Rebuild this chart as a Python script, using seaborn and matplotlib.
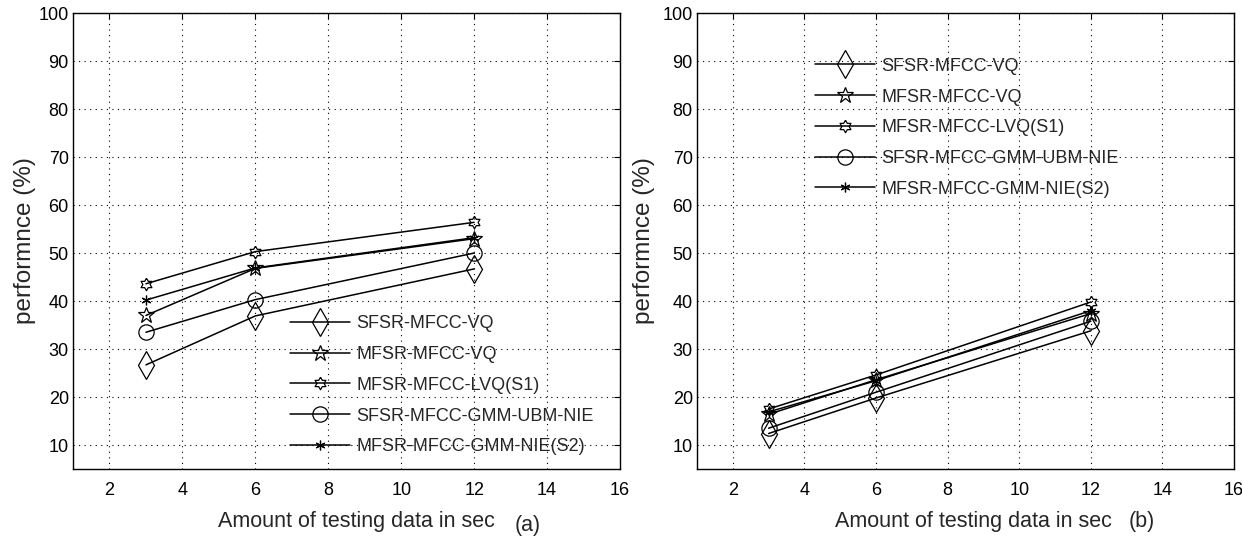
import numpy as np
import pandas as pd
import matplotlib
matplotlib.use('Agg')
import matplotlib.pyplot as plt
from matplotlib.path import Path
import seaborn as sns

# ── Data ──────────────────────────────────────────────
test_sec = [3, 6, 12]
series = ['SFSR-MFCC-VQ', 'MFSR-MFCC-VQ', 'MFSR-MFCC-LVQ(S1)',
          'SFSR-MFCC-GMM-UBM-NIE', 'MFSR-MFCC-GMM-NIE(S2)']

# panel (a)
a_sfsr_vq = [26.7, 36.9, 46.7]
a_mfsr_vq = [37.0, 46.8, 53.0]
a_mfsr_lvq = [43.6, 50.3, 56.4]
a_sfsr_gmm = [33.5, 40.3, 50.0]
a_mfsr_gmm = [40.2, 46.9, 53.2]

# panel (b)
b_sfsr_vq = [12.4, 19.8, 33.8]
b_mfsr_vq = [16.4, 23.6, 37.4]
b_mfsr_lvq = [17.5, 24.6, 39.8]
b_sfsr_gmm = [13.5, 21.0, 35.8]
b_mfsr_gmm = [16.9, 23.4, 38.0]

# ── Style ─────────────────────────────────────────────
sns.set_style('white')
plt.rcParams['font.family'] = ['Liberation Sans', 'DejaVu Sans']
plt.rcParams['xtick.direction'] = 'in'
plt.rcParams['ytick.direction'] = 'in'

# six pointed star (hexagram) marker
ang = np.pi / 2 + np.arange(12) * np.pi / 6
rad = np.where(np.arange(12) % 2 == 0, 1.0, 0.58)
pts = np.column_stack([rad * np.cos(ang), rad * np.sin(ang)])
hexa = Path(np.vstack([pts, pts[:1]]))

markers = ['d', '*', hexa, 'o', (6, 2, 0)]
msizes = [14, 12, 9, 11, 7]


def draw_panel(ax, values, leg_anchor, ylab_x):
    for name, vals, mk, ms in zip(series, values, markers, msizes):
        df = pd.DataFrame({'sec': test_sec, 'perf': vals})
        sns.lineplot(data=df, x='sec', y='perf', ax=ax, color='k',
                     lw=1.1, marker=mk, markersize=ms,
                     markerfacecolor='none', markeredgecolor='k',
                     markeredgewidth=0.9, label=name)
    ax.set_xlim(1, 16)
    ax.set_ylim(5, 100)
    ax.set_xticks(range(2, 17, 2))
    ax.set_yticks(range(10, 101, 10))
    ax.tick_params(labelsize=13, length=4, width=0.8, colors='k',
                   top=True, right=True)
    ax.tick_params(axis='x', pad=9)
    ax.tick_params(axis='y', pad=3)
    ax.grid(True, ls=(0, (1, 4)), color='k', lw=0.8)
    for s in ax.spines.values():
        s.set_color('k')
        s.set_linewidth(1.0)
    ax.set_xlabel('')
    ax.set_ylabel('performnce (%)', fontsize=17.5)
    ax.yaxis.set_label_coords(ylab_x, 0.5)
    ax.legend(loc='upper left', bbox_to_anchor=leg_anchor, frameon=False,
              fontsize=13, handlelength=3.3, handletextpad=0.35,
              labelspacing=0.76, borderaxespad=0, borderpad=0)


fig = plt.figure(figsize=(12.42, 5.46), dpi=100)
ax1 = fig.add_axes([0.0588, 0.141, 0.4404, 0.835])
ax2 = fig.add_axes([0.5612, 0.141, 0.4324, 0.835])

draw_panel(ax1, [a_sfsr_vq, a_mfsr_vq, a_mfsr_lvq, a_sfsr_gmm, a_mfsr_gmm],
           (0.397, 0.337), -0.068)
draw_panel(ax2, [b_sfsr_vq, b_mfsr_vq, b_mfsr_lvq, b_sfsr_gmm, b_mfsr_gmm],
           (0.22, 0.902), -0.078)

fig.text(0.287, 0.044, 'Amount of testing data in sec', fontsize=15.5,
         ha='center', va='center')
fig.text(0.425, 0.038, '(a)', fontsize=15.5, ha='center', va='center')
fig.text(0.784, 0.044, 'Amount of testing data in sec', fontsize=15.5,
         ha='center', va='center')
fig.text(0.919, 0.044, '(b)', fontsize=15.5, ha='center', va='center')

fig.savefig('out.png', dpi=100)
